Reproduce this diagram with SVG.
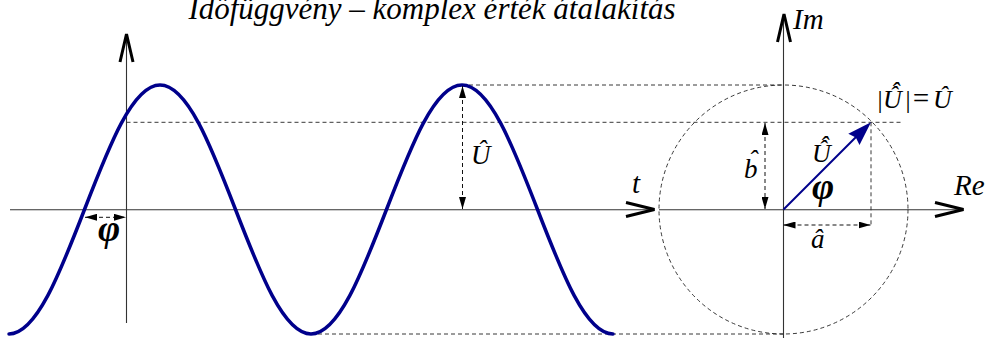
<svg xmlns="http://www.w3.org/2000/svg" width="991" height="339" viewBox="0 0 991 339">
<style>
  .axis { stroke: #333; stroke-width: 1.1; fill: none; }
  .chev { stroke: #000; stroke-width: 3; fill: none; stroke-linejoin: miter; }
  .dash { stroke: #222; stroke-width: 0.9; fill: none; stroke-dasharray: 4 3; }
  .dim { stroke: #111; stroke-width: 1; fill: none; stroke-dasharray: 4 3; marker-start: url(#ah); marker-end: url(#ah); }
  .wave { stroke: #00008b; stroke-width: 3.5; fill: none; stroke-linecap: round; }
</style>
<defs>
  <marker id="ah" viewBox="0 0 12 7" refX="12" refY="3.5" markerWidth="12" markerHeight="7" markerUnits="userSpaceOnUse" orient="auto-start-reverse">
    <path d="M0,0 L12,3.5 L0,7 z" fill="#000"/>
  </marker>
</defs>
<rect width="991" height="339" fill="#fff"/>

<g id="title" font-family="Liberation Serif, serif" font-style="italic">
  <text x="432" y="18.5" font-size="31" text-anchor="middle">Időfüggvény – komplex érték átalakítás</text>
</g>

<g id="guides">
  <path class="dash" d="M462,85 H783"/>
  <path class="dash" d="M126.5,122.3 H903"/>
  <path class="dash" d="M311,334 H783"/>
  <circle class="dash" cx="783.5" cy="209.5" r="124.5"/>
  <path class="dash" d="M871,122.3 V225"/>
</g>

<g id="time-axes">
  <path class="axis" d="M10,209.8 H654"/>
  <path class="axis" d="M126.5,35 V323"/>
  <path class="chev" d="M120,62 L126.5,34 L133,62"/>
  <path class="chev" d="M626,202.5 L654.5,209.5 L626,216.5"/>
</g>

<g id="complex-axes">
  <path class="axis" d="M659,209.8 H962"/>
  <path class="axis" d="M783.5,15 V338"/>
  <path class="chev" d="M777.5,42 L784,14 L790.5,42"/>
  <path class="chev" d="M935,202.5 L963.5,209.5 L935,216.5"/>
</g>

<g id="sine">
  <path class="wave" d="M9,334 C36.33,334 59.88,273.28 84.5,209.5 C109.12,145.72 132.67,85 160,85 C187.33,85 210.88,145.72 235.5,209.5 C260.12,273.28 283.67,334 311,334 C338.33,334 361.88,273.28 386.5,209.5 C411.12,145.72 434.67,85 462,85 C489.33,85 512.88,145.72 537.5,209.5 C562.12,273.28 585.67,334 613,334"/>
</g>

<g id="dimensions">
  <path class="dim" d="M85,217.3 H126"/>
  <path class="dim" d="M462.5,86 V209"/>
  <path class="dim" d="M765,123 V209"/>
  <path class="dim" d="M783.5,225 H870.5"/>
</g>

<g id="phasor">
  <path d="M783.5,209.5 L857,136" stroke="#00008b" stroke-width="2" fill="none"/>
  <path d="M871,122.3 L859.5,145 L855.8,137.5 L848.3,133.8 z" fill="#00008b"/>
</g>

<g id="labels" font-family="Liberation Serif, serif" font-style="italic">
  <text x="793" y="29" font-size="29">Im</text>
  <text x="954" y="195" font-size="29">Re</text>
  <text x="632" y="193" font-size="29">t</text>
  <text x="98" y="241" font-size="38" font-weight="bold">φ</text>
  <text x="812" y="199" font-size="38" font-weight="bold">φ</text>
  <text x="471" y="164" font-size="27">Û</text>
  <text x="744" y="178" font-size="27">b<tspan dx="-9" dy="-9">ˆ</tspan></text>
  <text x="811" y="248" font-size="27">â</text>
  <text x="812" y="162" font-size="26">Û<tspan dx="-11" dy="-8">ˆ</tspan></text>
  <text x="876" y="108" font-size="26">|<tspan x="883">Û</tspan><tspan dx="-11" dy="-8">ˆ</tspan><tspan x="904" dy="8">|</tspan><tspan x="911" font-size="29">=</tspan><tspan x="933">Û</tspan></text>
</g>
</svg>
